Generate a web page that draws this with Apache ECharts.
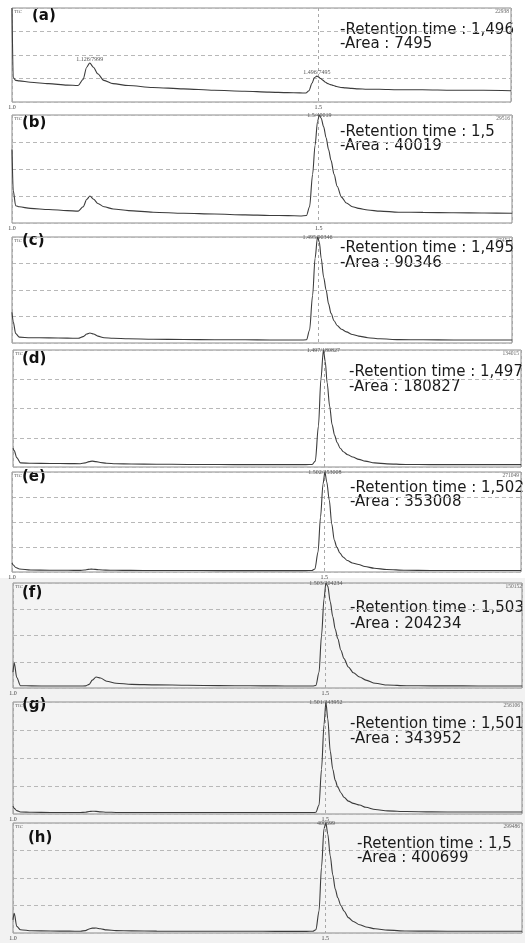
<!DOCTYPE html>
<html>
<head>
<meta charset="utf-8">
<script src="https://cdn.jsdelivr.net/npm/echarts@6/dist/echarts.min.js"></script>
<style>
  html, body { margin: 0; padding: 0; background: #fff; }
  #main { width: 525px; height: 943px; }
</style>
</head>
<body>
<div id="main"></div>
<script>
// retention time axis (min) shared by all traces
var rt = [1.000, 1.002, 1.006, 1.012, 1.03, 1.06, 1.09, 1.108, 1.116, 1.122, 1.127, 1.133, 1.14, 1.15, 1.165, 1.19,
  1.23, 1.28, 1.33, 1.38, 1.42, 1.45, 1.47, 1.48, 1.485, 1.49, 1.494, 1.498, 1.501, 1.504, 1.508, 1.512,
  1.516, 1.52, 1.525, 1.53, 1.537, 1.545, 1.555, 1.565, 1.58, 1.6, 1.63, 1.67, 1.72, 1.77, 1.815];

// intensity, % of each panel's full scale
var intA = [100, 26, 23, 22.5, 21, 19.5, 18, 17.5, 24, 37, 41.5, 37, 30, 23, 19.5, 17.5,
  15.5, 14, 12.5, 11.5, 10.5, 10, 9.7, 9.5, 12, 20, 26, 27.5, 26.5, 25, 23, 21,
  19.5, 18.5, 17.5, 16.5, 15.5, 15, 14.5, 14, 13.5, 13.5, 13, 13, 12.5, 12.5, 12];
var intB = [68, 30, 16, 15, 13.5, 12.5, 11.5, 11, 15, 22, 25, 22, 18, 15, 13, 11.5,
  10, 9, 8.3, 7.5, 7, 6.8, 6.5, 7, 15, 45, 72, 94, 100, 97, 89, 79,
  68, 58, 45, 34, 24, 18.5, 15, 13.5, 12, 11, 10, 9.8, 9.5, 9.2, 9];
var intC = [29, 20, 9, 5.5, 5, 4.8, 4.6, 4.5, 6, 8.5, 9.4, 8.5, 6.5, 5, 4.5, 4,
  3.6, 3.3, 3.1, 3, 2.9, 2.8, 2.8, 3, 12, 45, 80, 100, 95, 80, 62, 50,
  37, 28, 21, 16.5, 13, 10.5, 8, 6.5, 5, 4, 3.2, 3, 2.9, 2.8, 2.8];
var intD = [16, 14, 8, 3.5, 3.2, 3, 2.9, 2.8, 3.5, 4.6, 5, 4.6, 3.8, 3.2, 2.8, 2.6,
  2.4, 2.2, 2.1, 2, 2, 2, 2, 2.2, 5, 35, 75, 100, 90, 72, 52, 36,
  27, 21, 16, 13, 10.5, 8.5, 6.5, 5, 3.5, 2.7, 2.2, 2, 2, 2, 2];
var intE = [9, 7, 4.5, 3, 2, 1.8, 1.7, 1.6, 2, 2.6, 2.9, 2.6, 2.2, 1.9, 1.7, 1.6,
  1.5, 1.5, 1.4, 1.4, 1.4, 1.4, 1.4, 1.5, 3, 20, 55, 88, 100, 90, 72, 48,
  32, 25, 19, 15, 11.5, 9, 7.5, 5.5, 3.8, 2.5, 1.7, 1.5, 1.5, 1.5, 1.5];
var intF = [15, 24, 10, 2.2, 2, 1.9, 1.9, 1.9, 2, 3.5, 7.5, 10.5, 9.5, 6.5, 4.5, 3.5,
  3, 2.6, 2.3, 2.1, 2, 1.9, 1.9, 1.9, 2.5, 15, 50, 85, 100, 97, 82, 68,
  56, 47, 36, 28, 20, 14.5, 10.5, 7.5, 4.5, 2.8, 2.2, 2, 2, 1.9, 1.9];
var intG = [7, 5, 3, 1.8, 1.5, 1.4, 1.3, 1.3, 1.6, 2.2, 2.5, 2.3, 1.9, 1.6, 1.4, 1.3,
  1.3, 1.3, 1.3, 1.3, 1.3, 1.3, 1.3, 1.3, 1.5, 8, 40, 80, 100, 85, 56, 40,
  30, 24, 19, 15, 11.5, 9.5, 8, 6, 4, 2.8, 2.2, 1.9, 1.8, 1.8, 1.8];
var intH = [12, 18, 6, 3, 2, 1.8, 1.7, 1.6, 2.2, 3.6, 4.4, 4.5, 3.8, 2.8, 2.2, 1.9,
  1.7, 1.6, 1.6, 1.6, 1.5, 1.5, 1.5, 1.6, 3, 20, 60, 95, 100, 90, 70, 53,
  40, 32, 25, 20, 14, 10.5, 7.5, 5.5, 3.8, 2.6, 1.8, 1.7, 1.6, 1.6, 1.6];

var traces = [intA, intB, intC, intD, intE, intF, intG, intH];
var tags = ['(a)', '(b)', '(c)', '(d)', '(e)', '(f)', '(g)', '(h)'];
var fullScale = ['22938', '29516', '67452', '134015', '271049', '150152', '256106', '299486'];
var retention = ['1,496', '1,5', '1,495', '1,497', '1,502', '1,503', '1,501', '1,5'];
var areas = ['7495', '40019', '90346', '180827', '353008', '204234', '343952', '400699'];
// peak labels: [time, % height, text]
var peakLabels = [
  [[1.127, 41.5, '1.126/7999'], [1.498, 27.5, '1.496/7495']],
  [[1.501, 100, '1.5/40019']],
  [[1.498, 100, '1.495/90346']],
  [[1.498, 100, '1.497/180827']],
  [[1.501, 100, '1.502/353008']],
  [[1.501, 100, '1.503/204234']],
  [[1.501, 100, '1.501/343952']],
  [[1.501, 100, '400699']]
];
var xTickLabels = [true, true, false, false, true, true, true, true];

var W = 525;
var layout = [
  { left: 12, right: 14, top: 8, height: 94 },
  { left: 12, right: 13, top: 115, height: 108 },
  { left: 12, right: 13, top: 237, height: 106 },
  { left: 13, right: 4, top: 350, height: 117 },
  { left: 12, right: 4, top: 472, height: 100 },
  { left: 13, right: 1, top: 583, height: 105 },
  { left: 13, right: 3, top: 702, height: 112 },
  { left: 13, right: 3, top: 823, height: 110 }
];
var textPos = [
  { tx: 32, ty: 18, rx: 340, ry: 31, ay: 45 },
  { tx: 22, ty: 125, rx: 340, ry: 133, ay: 147 },
  { tx: 22, ty: 243, rx: 340, ry: 249, ay: 264 },
  { tx: 22, ty: 361, rx: 349, ry: 373, ay: 388 },
  { tx: 22, ty: 479, rx: 350, ry: 489, ay: 503 },
  { tx: 22, ty: 595, rx: 350, ry: 609, ay: 625 },
  { tx: 22, ty: 707, rx: 350, ry: 725, ay: 740 },
  { tx: 28, ty: 840, rx: 357, ry: 845, ay: 859 }
];

var grids = [], xAxes = [], yAxes = [], series = [], graphics = [];

graphics.push({ type: 'rect', z: -10, silent: true,
  shape: { x: 0, y: 578, width: W, height: 365 }, style: { fill: '#f2f2f2' } });

for (var i = 0; i < 8; i++) {
  var L = layout[i];
  grids.push({ left: L.left, right: L.right, top: L.top, height: L.height, show: true,
    borderColor: '#8c8c8c', borderWidth: 1, backgroundColor: i >= 5 ? '#f4f4f4' : '#fff' });
  xAxes.push({
    type: 'value', gridIndex: i, min: 1.0, max: 1.815, interval: 0.5,
    axisLine: { show: false }, axisTick: { show: false },
    axisLabel: { show: xTickLabels[i], fontSize: 6, margin: 2, color: '#444',
      fontFamily: 'Liberation Serif',
      formatter: function (v) { return (v === 1 || v === 1.5) ? v.toFixed(1) : ''; } },
    splitLine: { show: true, lineStyle: { type: [3, 3], color: '#a8a8a8', width: 1 } }
  });
  yAxes.push({
    type: 'value', gridIndex: i, min: 0, max: 100, interval: 25,
    axisLine: { show: false }, axisTick: { show: false }, axisLabel: { show: false },
    splitLine: { show: true, lineStyle: { type: [4, 3], color: '#b8b8b8', width: 1 } }
  });
  var pts = traces[i].map(function (v, k) { return [rt[k], v]; });
  var mp = peakLabels[i].map(function (p) {
    return { coord: [p[0], p[1]], value: p[2],
      label: { position: p[1] >= 100 ? 'inside' : 'top', distance: 1 } };
  });
  series.push({
    type: 'line', xAxisIndex: i, yAxisIndex: i, data: pts, showSymbol: false,
    clip: true, silent: true, animation: false, smooth: 0.3, smoothMonotone: 'x',
    lineStyle: { color: '#3c3c3c', width: 1.1 },
    markPoint: { symbol: 'circle', symbolSize: 0, silent: true, data: mp,
      label: { show: true, fontSize: 6, color: '#555', fontFamily: 'Liberation Serif',
        formatter: function (p) { return p.value; } } }
  });

  var T = textPos[i];
  graphics.push({ type: 'text', left: L.left + 2, top: L.top + 1, silent: true,
    style: { text: 'TIC', fontSize: 5, fill: '#666', fontFamily: 'Liberation Serif' } });
  graphics.push({ type: 'text', right: L.right + 2, top: L.top + 1, silent: true,
    style: { text: fullScale[i], fontSize: 5.5, fill: '#666', fontFamily: 'Liberation Serif' } });
  graphics.push({ type: 'text', left: T.tx, top: T.ty - 9, silent: true,
    style: { text: tags[i], fontSize: 15, fontWeight: 'bold', fill: '#111', fontFamily: 'DejaVu Sans' } });
  graphics.push({ type: 'text', left: T.rx, top: T.ry - 8, silent: true,
    style: { text: '-Retention time : ' + retention[i], fontSize: 15, fill: '#1a1a1a', fontFamily: 'DejaVu Sans' } });
  graphics.push({ type: 'text', left: T.rx, top: T.ay - 8, silent: true,
    style: { text: '-Area : ' + areas[i], fontSize: 15, fill: '#1a1a1a', fontFamily: 'DejaVu Sans' } });
}

var myChart = echarts.init(document.getElementById('main'));
myChart.setOption({
  backgroundColor: '#ffffff',
  animation: false,
  grid: grids,
  xAxis: xAxes,
  yAxis: yAxes,
  series: series,
  graphic: graphics
});
</script>
</body>
</html>
